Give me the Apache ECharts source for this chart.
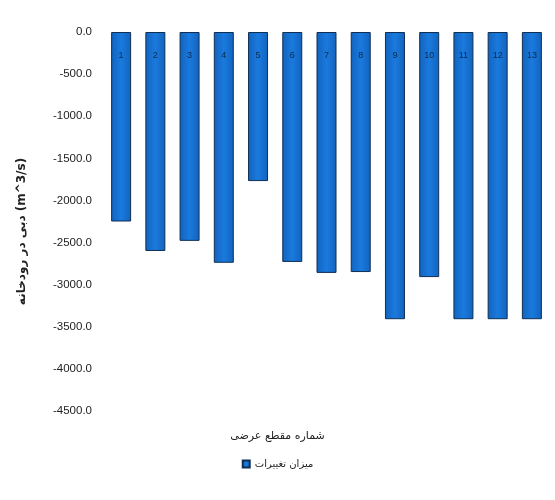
<!DOCTYPE html>
<html>
<head>
<meta charset="utf-8">
<script src="https://cdn.jsdelivr.net/npm/echarts@6/dist/echarts.min.js"></script>
<style>
  html, body { margin: 0; padding: 0; background: #ffffff; }
  #chart { width: 555px; height: 500px; }
</style>
</head>
<body>
<div id="chart"></div>
<script>
// Cross-section numbers and discharge change per section (m^3/s)
const sections = ['1', '2', '3', '4', '5', '6', '7', '8', '9', '10', '11', '12', '13'];
const changes = [-2250, -2600, -2480, -2740, -1770, -2730, -2860, -2850, -3410, -2910, -3410, -3410, -3410];
const seriesName = 'میزان تغییرات';
const xTitle = 'شماره مقطع عرضی';
const yTitle = 'دبی در رودخانه (m^3/s)';
const yTicks = { min: -4500, max: 0, step: 500 };

const chart = echarts.init(document.getElementById('chart'), null, { renderer: 'canvas' });

chart.setOption({
  backgroundColor: '#ffffff',
  animation: false,
  grid: { left: 104, right: 6, top: 32, bottom: 89 },
  xAxis: {
    type: 'category',
    data: sections,
    axisLine: { show: false },
    axisTick: { show: false },
    axisLabel: { show: false }
  },
  yAxis: {
    type: 'value',
    min: yTicks.min,
    max: yTicks.max,
    interval: yTicks.step,
    splitLine: { show: false },
    axisLine: { show: false },
    axisTick: { show: false },
    axisLabel: {
      formatter: v => v.toFixed(1),
      color: '#222',
      fontSize: 11.5,
      fontFamily: '"Liberation Sans Narrow", "Liberation Sans", sans-serif',
      margin: 12
    },
    name: yTitle,
    nameLocation: 'middle',
    nameRotate: 90,
    nameGap: 76,
    nameTextStyle: {
      color: '#222',
      fontSize: 12,
      fontWeight: 'bold',
      fontFamily: '"DejaVu Sans", sans-serif',
      padding: [0, 0, 0, -20]
    }
  },
  legend: {
    data: [seriesName],
    bottom: 26,
    left: 'center',
    itemWidth: 7,
    itemHeight: 7,
    icon: 'rect',
    itemGap: 4,
    textStyle: { color: '#222', fontSize: 10, fontFamily: '"DejaVu Sans", sans-serif' }
  },
  graphic: [{
    type: 'text',
    left: 'center',
    top: 431,
    style: {
      text: xTitle,
      fill: '#222',
      fontSize: 11,
      fontFamily: '"DejaVu Sans", sans-serif'
    }
  }],
  series: [{
    name: seriesName,
    type: 'bar',
    data: changes,
    barWidth: 20,
    itemStyle: {
      color: new echarts.graphic.LinearGradient(0, 0, 1, 0, [
        { offset: 0, color: '#1263bd' },
        { offset: 0.5, color: '#1a7ade' },
        { offset: 1, color: '#1263bd' }
      ]),
      borderColor: '#0f2f55',
      borderWidth: 1
    },
    label: {
      show: true,
      position: 'insideTop',
      distance: 19,
      formatter: p => p.name,
      color: '#0d2a4a',
      fontSize: 9,
      fontFamily: '"Liberation Sans Narrow", "Liberation Sans", sans-serif'
    }
  }]
});
</script>
</body>
</html>
